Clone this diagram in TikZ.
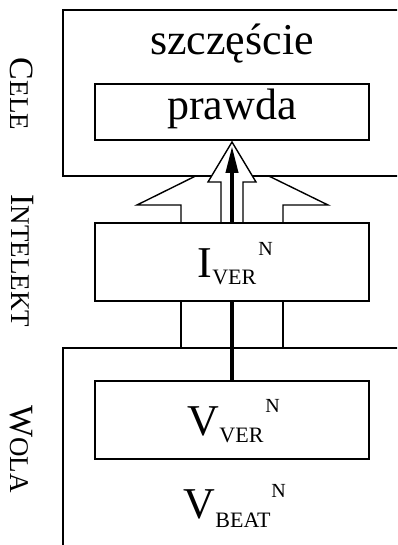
\documentclass[tikz,border=0pt]{standalone}
\usepackage{fontspec}
\setmainfont{Liberation Serif}
\usetikzlibrary{arrows.meta}
\newcommand{\bigf}{\fontsize{44}{50}\selectfont}
\newcommand{\subf}{\fontsize{22}{24}\selectfont}
\newcommand{\supf}{\fontsize{20}{22}\selectfont}
\newcommand{\capA}{\fontsize{34}{40}\selectfont}
\newcommand{\capB}{\fontsize{27}{30}\selectfont}
\begin{document}
\begin{tikzpicture}[x=1pt,y=-1pt,line width=1.4pt,
  box/.style={draw, fill=white, line width=1.4pt, minimum width=274pt, inner sep=0pt},
  hollow/.style={draw, fill=white, line width=1.4pt},
  txt/.style={inner sep=0pt, font=\bigf},
  side/.style={inner sep=0pt, rotate=-90, anchor=base}]
\useasboundingbox (0,0) rectangle (397,545);
\clip (0,0) rectangle (397,545);
% big hollow arrow (behind the top box)
\draw[hollow] (181,223) -- (181,205) -- (137,205) -- (232,158) -- (328,205) -- (283,205) -- (283,223);
% top region (Cele)
\draw[fill=white] (63,10) rectangle (420,176);
% bottom region (Wola)
\draw[fill=white] (63,348) rectangle (420,570);
% narrow hollow arrow
\draw[hollow] (221,223) -- (221,182) -- (208,182) -- (232,142) -- (256,182) -- (243,182) -- (243,223);
% boxes
\node[box, minimum height=78pt] (vver) at (232,420) {};
\coordinate (tip) at (232,146);
\draw[line width=4pt, -{Triangle[length=27pt,width=12pt]}] (vver.north) -- (tip);
\node[box, minimum height=78pt] (iver) at (232,262) {};
\node[box, minimum height=56pt] (prawda) at (232,112) {};
% stems between Intelekt and Wola
\coordinate (wl) at (181,348);
\coordinate (wr) at (283,348);
\draw (iver.south -| wl) -- (wl);
\draw (iver.south -| wr) -- (wr);
% texts
\node[txt, anchor=base] (sz) at (232,55) {szczęście};
\node[txt, anchor=base] (pr) at (232,120) {prawda};
\node[txt, anchor=base west] (it) at (197,277) {I\raisebox{-7pt}{\subf VER}\kern2pt\raisebox{22pt}{\supf N}};
\node[txt, anchor=base west] (vt) at (187,435) {V\raisebox{-7pt}{\subf VER}\kern2pt\raisebox{23pt}{\supf N}};
\node[txt, anchor=base west] (vb) at (183,518) {V\raisebox{-9pt}{\subf BEAT}\kern1pt\raisebox{21pt}{\supf N}};
% side labels
\node[side] (cele) at (10,94) {{\capA C}{\capB ELE}};
\node[side] (intel) at (11,261) {{\capA I}{\capB NTELEKT}};
\node[side] (wola) at (10,449) {{\capA W}{\capB OLA}};
\end{tikzpicture}
\end{document}
